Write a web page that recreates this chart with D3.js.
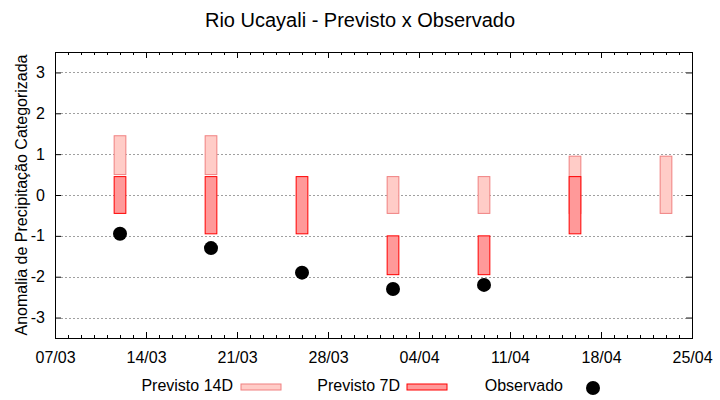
<!DOCTYPE html>
<html>
<head>
<meta charset="utf-8">
<script src="https://cdn.jsdelivr.net/npm/d3@7"></script>
<style>
  body { margin: 0; background: #fff; }
  text { font-family: "Liberation Sans", Arial, sans-serif; }
</style>
</head>
<body>
<div id="chart"></div>
<script>
// dados
var datas = ["12/03", "19/03", "26/03", "02/04", "09/04", "16/04", "23/04"];
var prev14Min = [0.5, 0.5, null, -0.45, -0.45, -0.45, -0.45];
var prev14Max = [1.45, 1.45, null, 0.45, 0.45, 0.95, 0.95];
var prev7Min = [-0.45, -0.95, -0.95, -1.95, -1.95, -0.95, null];
var prev7Max = [0.45, 0.45, 0.45, -1.0, -1.0, 0.45, null];
var observado = [-0.95, -1.3, -1.9, -2.3, -2.2, null, null];
var yTicks = [-3, -2, -1, 0, 1, 2, 3];

var width = 720;
var height = 400;
var margin = {top: 52, right: 28, bottom: 62, left: 55};

var parse = d3.utcParse("%d/%m/%Y");
var fmt = d3.utcFormat("%d/%m");
var dia = function (s) { return parse(s + "/2024"); };

var inicio = dia("07/03");
var fim = dia("25/04");

var x = d3.scaleUtc()
    .domain([inicio, fim])
    .range([margin.left, width - margin.right]);

var y = d3.scaleLinear()
    .domain([-3.5, 3.5])
    .range([height - margin.bottom, margin.top]);

var svg = d3.select("#chart").append("svg")
    .attr("width", width)
    .attr("height", height);

// titulo
svg.append("text")
    .attr("x", 360)
    .attr("y", 27)
    .attr("text-anchor", "middle")
    .style("font-size", "20px")
    .text("Rio Ucayali - Previsto x Observado");

// grade
svg.append("g")
    .selectAll("line")
    .data(yTicks)
    .join("line")
    .attr("x1", margin.left + 6)
    .attr("x2", width - margin.right - 6)
    .attr("y1", function (d) { return Math.round(y(d)) + 0.5; })
    .attr("y2", function (d) { return Math.round(y(d)) + 0.5; })
    .style("stroke", "#a0a0a0")
    .style("stroke-dasharray", "2,2");

var semanas = d3.utcDay.range(inicio, d3.utcDay.offset(fim, 1), 7);
var dias = d3.utcDay.range(inicio, d3.utcDay.offset(fim, 1));

function limpa(g) {
    g.select(".domain").remove();
    g.selectAll("text").style("font-size", "16px").style("font-family", "Liberation Sans, Arial, sans-serif");
}

// eixos (ticks para dentro, espelhados)
svg.append("g")
    .attr("transform", "translate(0," + (height - margin.bottom) + ")")
    .call(d3.axisBottom(x).tickValues(dias).tickSize(-3).tickFormat(""))
    .call(limpa);
svg.append("g")
    .attr("transform", "translate(0," + (height - margin.bottom) + ")")
    .call(d3.axisBottom(x).tickValues(semanas).tickSize(-6).tickPadding(14).tickFormat(fmt))
    .call(limpa);

svg.append("g")
    .attr("transform", "translate(0," + margin.top + ")")
    .call(d3.axisTop(x).tickValues(dias).tickSize(-3).tickFormat(""))
    .call(limpa);
svg.append("g")
    .attr("transform", "translate(0," + margin.top + ")")
    .call(d3.axisTop(x).tickValues(semanas).tickSize(-6).tickFormat(""))
    .call(limpa);

svg.append("g")
    .attr("transform", "translate(" + margin.left + ",0)")
    .call(d3.axisLeft(y).tickValues(yTicks).tickSize(-6).tickPadding(10).tickFormat(function (d) { return String(d); }))
    .call(limpa);
svg.append("g")
    .attr("transform", "translate(" + (width - margin.right) + ",0)")
    .call(d3.axisRight(y).tickValues(yTicks).tickSize(-6).tickFormat(""))
    .call(limpa);

// moldura
svg.append("rect")
    .attr("x", margin.left + 0.5)
    .attr("y", margin.top + 0.5)
    .attr("width", width - margin.left - margin.right)
    .attr("height", height - margin.top - margin.bottom)
    .style("fill", "none")
    .style("stroke", "black");

// rotulo eixo y
svg.append("text")
    .attr("transform", "translate(27," + ((margin.top + height - margin.bottom) / 2) + ") rotate(-90)")
    .attr("text-anchor", "middle")
    .style("font-size", "16px")
    .text("Anomalia de Precipitação Categorizada");

var meiaBarra = 0.45 * 24 * 3600 * 1000;
var barras = datas.map(function (d, i) {
    return {data: dia(d), min14: prev14Min[i], max14: prev14Max[i],
            min7: prev7Min[i], max7: prev7Max[i], obs: observado[i]};
});

function larg(d) {
    return x(new Date(+d.data + meiaBarra)) - x(new Date(+d.data - meiaBarra));
}

svg.append("g")
    .selectAll("rect")
    .data(barras.filter(function (d) { return d.min14 !== null; }))
    .join("rect")
    .attr("x", function (d) { return x(new Date(+d.data - meiaBarra)); })
    .attr("width", larg)
    .attr("y", function (d) { return y(d.max14); })
    .attr("height", function (d) { return y(d.min14) - y(d.max14); })
    .style("fill", "#ffccc7")
    .style("stroke", "#f08080")
    .style("stroke-width", 1);

svg.append("g")
    .selectAll("rect")
    .data(barras.filter(function (d) { return d.min7 !== null; }))
    .join("rect")
    .attr("x", function (d) { return x(new Date(+d.data - meiaBarra)); })
    .attr("width", larg)
    .attr("y", function (d) { return y(d.max7); })
    .attr("height", function (d) { return y(d.min7) - y(d.max7); })
    .style("fill", "#ff9999")
    .style("stroke", "#ff0000")
    .style("stroke-width", 1);

svg.append("g")
    .selectAll("circle")
    .data(barras.filter(function (d) { return d.obs !== null; }))
    .join("circle")
    .attr("cx", function (d) { return x(d.data); })
    .attr("cy", function (d) { return y(d.obs); })
    .attr("r", 7)
    .style("fill", "black");

// legenda
var leg = svg.append("g").style("font-size", "16px");
leg.append("text").attr("x", 233).attr("y", 391).attr("text-anchor", "end").text("Previsto 14D");
leg.append("rect").attr("x", 241).attr("y", 384).attr("width", 40).attr("height", 6)
    .style("fill", "#ffccc7").style("stroke", "#f08080").style("stroke-width", 1);
leg.append("text").attr("x", 400).attr("y", 391).attr("text-anchor", "end").text("Previsto 7D");
leg.append("rect").attr("x", 407).attr("y", 384).attr("width", 40).attr("height", 6)
    .style("fill", "#ff9999").style("stroke", "#ff0000").style("stroke-width", 1);
leg.append("text").attr("x", 563).attr("y", 391).attr("text-anchor", "end").text("Observado");
leg.append("circle").attr("cx", 593).attr("cy", 388).attr("r", 7).style("fill", "black");
</script>
</body>
</html>
